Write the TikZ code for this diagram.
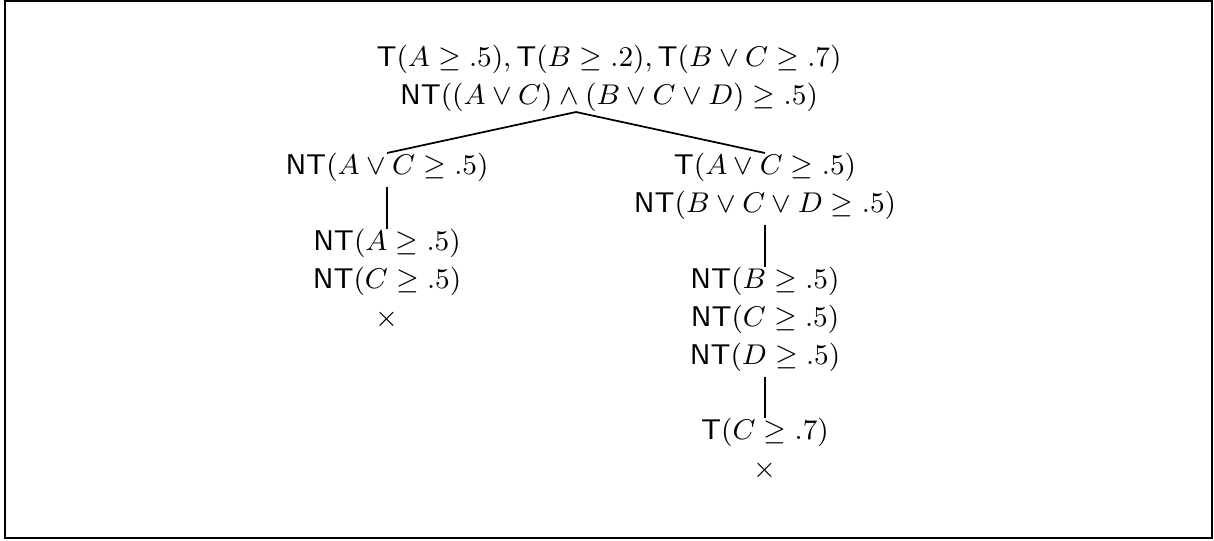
\documentclass[tikz,border=0pt]{standalone}
\usepackage{amsmath,amssymb}
\usetikzlibrary{positioning,calc}
\newcommand{\tv}{\mathsf{T}}
\newcommand{\ntv}{\mathsf{NT}}

\begin{document}
\begin{tikzpicture}[x=0.3155pt,y=-0.3155pt,
  f/.style={inner sep=0pt, outer sep=0pt, align=center, anchor=north,
            font=\fontsize{9}{12}\selectfont},
  e/.style={draw=black, line width=0.55pt},
  d/.style={e, shorten <=1.6pt}]
  \useasboundingbox (0,0) rectangle (1214,540);
  \draw[line width=0.6pt] (5,1) rectangle (1212,538);
  % root and first split
  \node[f] (root) at (609,45)
    {$\tv(A \geq .5), \tv(B \geq .2), \tv(B \lor C \geq .7)$\\
     $\ntv((A \lor C) \land (B \lor C \lor D) \geq .5)$};
  \coordinate (fork) at (576,112);
  \node[f] (lc) at (387,153) {$\ntv(A \lor C \geq .5)$};
  \node[f] (rc) at (765,153)
    {$\tv(A \lor C \geq .5)$\\ $\ntv(B \lor C \lor D \geq .5)$};
  \draw[e] (lc.north) -- (fork) -- (rc.north);
  % left branch
  \node[f] (lg) at (387,229)
    {$\ntv(A \geq .5)$\\ $\ntv(C \geq .5)$\\ $\times$};
  \draw[d] (lc.south) -- (lg.north);
  % right branch
  \node[f] (rg) at (765,267)
    {$\ntv(B \geq .5)$\\ $\ntv(C \geq .5)$\\ $\ntv(D \geq .5)$};
  \draw[d] (rc.south) -- (rg.north);
  \node[f] (rl) at (765,418) {$\tv(C \geq .7)$\\ $\times$};
  \draw[d] (rg.south) -- (rl.north);
\end{tikzpicture}
\end{document}
